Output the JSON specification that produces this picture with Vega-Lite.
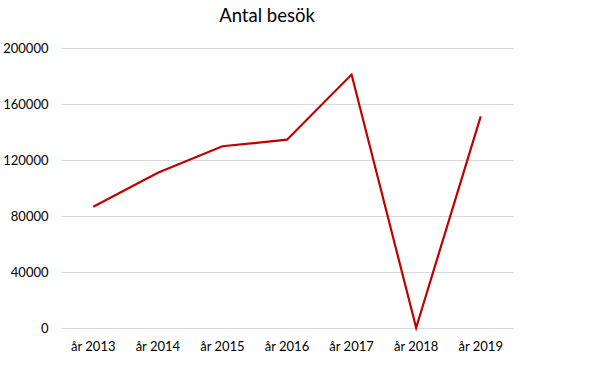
{
  "$schema": "https://vega.github.io/schema/vega-lite/v6.json",
  "autosize": {"type": "none"},
  "width": 452,
  "height": 280,
  "padding": {"left": 61, "top": 48, "right": 93, "bottom": 37},
  "background": "white",
  "title": {
    "text": "Antal besök",
    "font": "Lato",
    "fontSize": 18.5,
    "fontWeight": "normal",
    "color": "#000000",
    "anchor": "middle",
    "dx": -20,
    "offset": 17
  },
  "data": {
    "values": [
      {"year": "år 2013", "visits": 86600},
      {"year": "år 2014", "visits": 110900},
      {"year": "år 2015", "visits": 129800},
      {"year": "år 2016", "visits": 134500},
      {"year": "år 2017", "visits": 181000},
      {"year": "år 2018", "visits": 200},
      {"year": "år 2019", "visits": 151200}
    ]
  },
  "mark": {"type": "line", "color": "#c00000", "strokeWidth": 2.2},
  "encoding": {
    "x": {
      "field": "year",
      "type": "nominal",
      "sort": null,
      "scale": {"type": "band", "paddingInner": 0, "paddingOuter": 0},
      "axis": {
        "title": null,
        "labelAngle": 0,
        "ticks": false,
        "domain": false,
        "grid": false,
        "labelFont": "Lato",
        "labelFontSize": 13,
        "labelColor": "#000000",
        "labelPadding": 12
      }
    },
    "y": {
      "field": "visits",
      "type": "quantitative",
      "scale": {"domain": [0, 200000], "nice": false},
      "axis": {
        "title": null,
        "values": [0, 40000, 80000, 120000, 160000, 200000],
        "format": "d",
        "ticks": false,
        "domain": false,
        "grid": true,
        "gridColor": "#d9d9d9",
        "gridWidth": 1,
        "labelFont": "Lato",
        "labelFontSize": 13,
        "labelColor": "#000000",
        "labelPadding": 13
      }
    }
  },
  "config": {"view": {"stroke": null}}
}
